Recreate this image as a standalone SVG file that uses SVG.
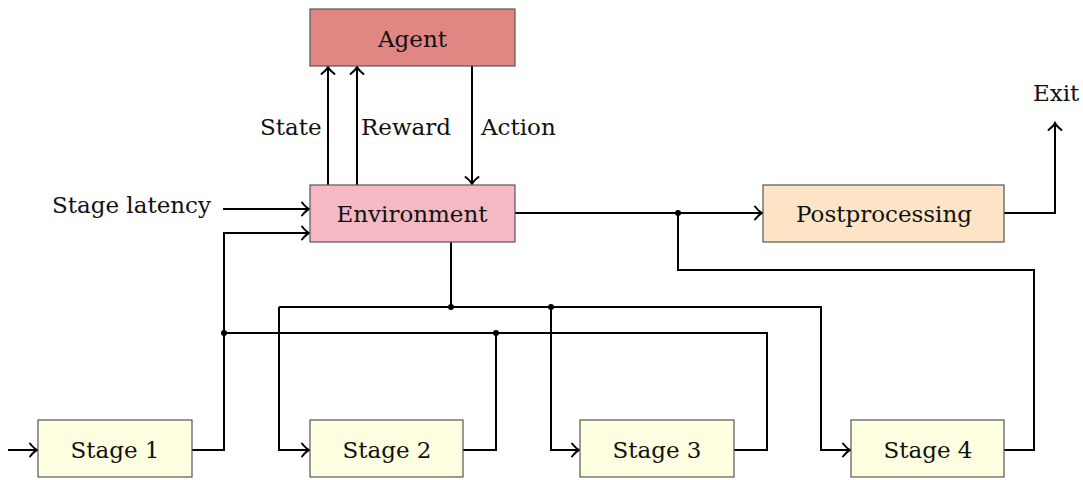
<svg xmlns="http://www.w3.org/2000/svg" width="1083" height="480" viewBox="0 0 1083 480">
<style>
.box{stroke:#555;stroke-width:1.2}
.lbl{font-family:"DejaVu Serif","Liberation Serif",serif;font-size:23px;fill:#111}
.c{text-anchor:middle}
.w{fill:none;stroke:#000;stroke-width:2}
.a{marker-end:url(#arr)}
</style>
<defs>
<marker id="arr" markerUnits="userSpaceOnUse" markerWidth="20" markerHeight="20" refX="0" refY="0" orient="auto" overflow="visible">
<path d="M-7,-6.5 Q-3,-1.5 0,0 Q-3,1.5 -7,6.5" fill="none" stroke="#000" stroke-width="2" stroke-linecap="round"/>
</marker>
</defs>
<rect width="1083" height="480" fill="#fff"/>
<g id="connectors">
<path class="w a" d="M328,185 V67"/>
<path class="w a" d="M357,185 V67"/>
<path class="w a" d="M472,66 V184"/>
<path class="w a" d="M223,209 H309"/>
<path class="w a" d="M192,450 H224 V233 H309"/>
<path class="w" d="M224,333 H767 V450 H734"/>
<path class="w" d="M463,450 H496 V333"/>
<path class="w" d="M451,242 V307"/>
<path class="w a" d="M279,307 V450 H309"/>
<path class="w a" d="M279,307 H821 V450 H850"/>
<path class="w a" d="M551,307 V450 H579"/>
<path class="w a" d="M515,213 H762"/>
<path class="w" d="M1004,450 H1034 V270 H678 V213"/>
<path class="w a" d="M1004,213 H1055 V123"/>
<path class="w a" d="M8,450 H37"/>
<circle cx="224" cy="333" r="3"/>
<circle cx="496" cy="333" r="3"/>
<circle cx="451" cy="307" r="3"/>
<circle cx="551" cy="307" r="3"/>
<circle cx="678" cy="213" r="3"/>
<text class="lbl" x="260" y="135">State</text>
<text class="lbl" x="361" y="135">Reward</text>
<text class="lbl" x="481" y="135">Action</text>
<text class="lbl" x="52" y="213">Stage latency</text>
<text class="lbl" x="1033" y="101">Exit</text>
</g>
<g id="agent">
<rect class="box" x="310" y="9" width="205" height="57" fill="#e08783"/>
<text class="lbl c" x="412.5" y="47">Agent</text>
</g>
<g id="environment">
<rect class="box" x="310" y="185" width="205" height="57" fill="#f4b9c2"/>
<text class="lbl c" x="412" y="222">Environment</text>
</g>
<g id="postprocessing">
<rect class="box" x="763" y="185" width="241" height="57" fill="#fee4c6"/>
<text class="lbl c" x="884" y="222">Postprocessing</text>
</g>
<g id="stage1">
<rect class="box" x="38" y="420" width="154" height="57" fill="#fefee0"/>
<text class="lbl c" x="115" y="458">Stage 1</text>
</g>
<g id="stage2">
<rect class="box" x="310" y="420" width="153" height="57" fill="#fefee0"/>
<text class="lbl c" x="387" y="458">Stage 2</text>
</g>
<g id="stage3">
<rect class="box" x="580" y="420" width="154" height="57" fill="#fefee0"/>
<text class="lbl c" x="657" y="458">Stage 3</text>
</g>
<g id="stage4">
<rect class="box" x="851" y="420" width="153" height="57" fill="#fefee0"/>
<text class="lbl c" x="928" y="458">Stage 4</text>
</g>
</svg>
